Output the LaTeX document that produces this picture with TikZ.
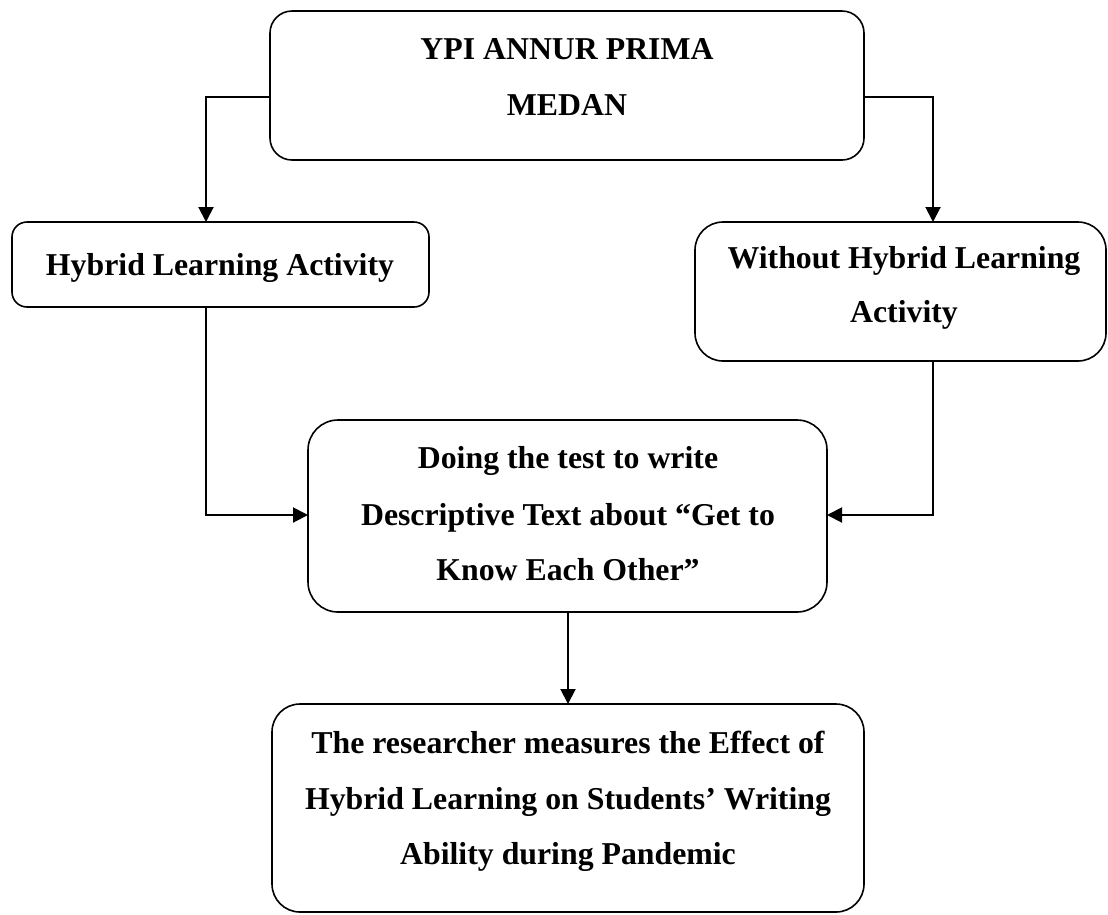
\documentclass[tikz,border=0pt]{standalone}
\usepackage{fontspec}
\setmainfont{Liberation Serif}
\usetikzlibrary{arrows.meta}
\begin{document}
\begin{tikzpicture}[x=1pt,y=-1pt,
  box/.style={draw, line width=1.6pt, inner sep=0pt, outer sep=0pt},
  txt/.style={inner sep=0pt, anchor=base, font=\fontsize{31.8}{40}\selectfont\bfseries},
  arr/.style={line width=2pt, -{Triangle[length=15pt,width=15pt]}},
  conn/.style={line width=2pt}]
\useasboundingbox (0,0) rectangle (1108,914);

% boxes
\node[box, rounded corners=22pt, minimum width=594pt, minimum height=149pt] (ntop) at (567,85.5) {};
\node[box, rounded corners=15pt, minimum width=417pt, minimum height=85pt] (nleft) at (220.5,264.5) {};
\node[box, rounded corners=28pt, minimum width=411pt, minimum height=139pt] (nright) at (900.5,291.5) {};
\node[box, rounded corners=30pt, minimum width=519pt, minimum height=192pt] (nmid) at (567.5,516) {};
\node[box, rounded corners=28pt, minimum width=592pt, minimum height=208pt] (nbot) at (568,808) {};

% texts
\node[txt] (ta1) at (567,59) {YPI ANNUR PRIMA};
\node[txt] (ta2) at (567,115) {MEDAN};
\node[txt] (tb1) at (220,275) {Hybrid Learning Activity};
\node[txt] (tc1) at (904,268) {Without Hybrid Learning};
\node[txt] (tc2) at (904,322) {Activity};
\node[txt] (td1) at (568,468) {Doing the test to write};
\node[txt] (td2) at (568,525) {Descriptive Text about “Get to};
\node[txt] (td3) at (568,580) {Know Each Other”};
\node[txt] (te1) at (568,753) {The researcher measures the Effect of};
\node[txt] (te2) at (568,809) {Hybrid Learning on Students’ Writing};
\node[txt] (te3) at (568,864) {Ability during Pandemic};

% connectors
\draw[arr] (ntop.west |- 0,96.5) -| (206,0 |- nleft.north);
\draw[arr] (ntop.east |- 0,96.5) -| (933,0 |- nright.north);
\draw[arr] (206,0 |- nleft.south) |- (nmid.west |- 0,515);
\draw[arr] (933,0 |- nright.south) |- (nmid.east |- 0,515);
\draw[arr] (568,0 |- nmid.south) -- (568,0 |- nbot.north);
\end{tikzpicture}
\end{document}
